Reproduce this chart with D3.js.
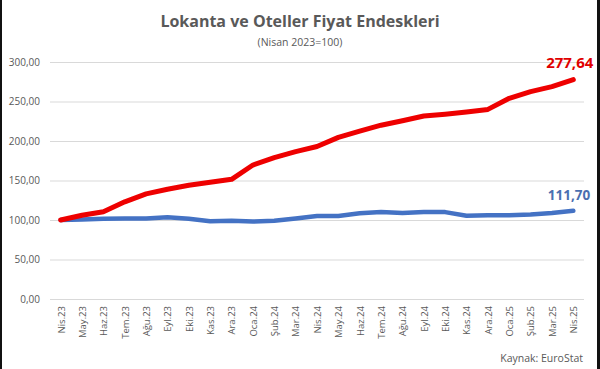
<!DOCTYPE html>
<html>
<head>
<meta charset="utf-8">
<script src="https://cdn.jsdelivr.net/npm/d3@7"></script>
<style>
  body { margin: 0; background: #fff; }
  svg { display: block; font-family: "Open Sans", "Liberation Sans", sans-serif; }
</style>
</head>
<body>
<div id="chart"></div>
<script>
// DATA
const months = ["Nis.23","May.23","Haz.23","Tem.23","Ağu.23","Eyl.23","Eki.23","Kas.23","Ara.23",
  "Oca.24","Şub.24","Mar.24","Nis.24","May.24","Haz.24","Tem.24","Ağu.24","Eyl.24","Eki.24",
  "Kas.24","Ara.24","Oca.25","Şub.25","Mar.25","Nis.25"]

// red series
const lokanta = [100, 106, 110.5, 123, 133, 139, 144, 147.7, 151.5, 169.6, 179, 186.5, 193,
  204.6, 212.6, 220, 225.7, 231.6, 234, 236.7, 240, 254, 262.5, 268.8, 277.64]

// blue series
const blue = [100, 100.5, 101.5, 102, 102, 103.5, 101.5, 98.5, 99, 98, 99, 102, 105.2,
  105, 108.5, 110, 109, 110, 110, 105.4, 106, 106, 107, 109, 111.7]

const yTicks = [0, 50, 100, 150, 200, 250, 300]

const width = 600
const height = 369

const xScale = d3.scalePoint()
  .domain(months)
  .range([50, 584])
  .padding(0.5)

const yScale = d3.scaleLinear()
  .domain([0, 300])
  .range([299, 62])

const fmt = v => d3.format(".2f")(v).replace(".", ",")

const svg = d3.select("#chart")
  .append("svg")
  .attr("width", width)
  .attr("height", height)

// frame edges
svg.append("rect").attr("x", 0).attr("y", 0).attr("width", 2).attr("height", height).attr("fill", "#111")
svg.append("rect").attr("x", 597).attr("y", 0).attr("width", 3).attr("height", height).attr("fill", "#111")

// TITLE
svg.append("text")
  .attr("x", 300).attr("y", 27)
  .attr("text-anchor", "middle")
  .attr("font-size", 16).attr("font-weight", "bold")
  .attr("fill", "#595959")
  .text("Lokanta ve Oteller Fiyat Endeskleri")

svg.append("text")
  .attr("x", 300).attr("y", 46)
  .attr("text-anchor", "middle")
  .attr("font-size", 10.5)
  .attr("fill", "#595959")
  .text("(Nisan 2023=100)")

// Y AXIS (grid + labels)
const yAxis = d3.axisLeft(yScale)
  .tickValues(yTicks)
  .tickSize(-(584 - 50))
  .tickFormat(fmt)

svg.append("g")
  .attr("transform", "translate(50,0)")
  .call(yAxis)
  .call(g => g.select(".domain").remove())
  .call(g => g.selectAll(".tick line").attr("stroke", "#d9d9d9"))
  .call(g => g.selectAll(".tick text")
    .attr("x", -10)
    .attr("font-size", 10)
    .attr("fill", "#595959")
    .attr("font-family", "Open Sans, sans-serif"))

// X AXIS
const xAxis = d3.axisBottom(xScale).tickSize(0)

svg.append("g")
  .attr("transform", `translate(0,${yScale(0)})`)
  .call(xAxis)
  .call(g => g.select(".domain").remove())
  .call(g => g.selectAll(".tick text")
    .attr("transform", "rotate(-90)")
    .attr("text-anchor", "end")
    .attr("x", -7)
    .attr("y", 0)
    .attr("dy", "0.35em")
    .attr("font-size", 9.5)
    .attr("fill", "#595959")
    .attr("font-family", "Open Sans, sans-serif"))

// LINES
const line = d3.line()
  .x((d, i) => xScale(months[i]))
  .y(d => yScale(d))

svg.append("path")
  .datum(blue)
  .attr("d", line)
  .attr("fill", "none")
  .attr("stroke", "#4472c4")
  .attr("stroke-width", 4.5)
  .attr("stroke-linejoin", "round")
  .attr("stroke-linecap", "round")

svg.append("path")
  .datum(lokanta)
  .attr("d", line)
  .attr("fill", "none")
  .attr("stroke", "#ee0000")
  .attr("stroke-width", 5)
  .attr("stroke-linejoin", "round")
  .attr("stroke-linecap", "round")

// END LABELS
const last = months.length - 1
svg.append("text")
  .attr("x", xScale(months[last]) + 20)
  .attr("y", yScale(lokanta[last]) - 12)
  .attr("text-anchor", "end")
  .attr("font-size", 15).attr("font-weight", "bold")
  .attr("fill", "#e00000")
  .text(fmt(lokanta[last]))

svg.append("text")
  .attr("x", xScale(months[last]) + 17)
  .attr("y", yScale(blue[last]) - 11)
  .attr("text-anchor", "end")
  .attr("font-size", 13.5).attr("font-weight", "bold")
  .attr("fill", "#4a6fb0")
  .text(fmt(blue[last]))

// SOURCE
svg.append("text")
  .attr("x", 583).attr("y", 362)
  .attr("text-anchor", "end")
  .attr("font-size", 10.5)
  .attr("fill", "#595959")
  .text("Kaynak: EuroStat")
</script>
</body>
</html>
